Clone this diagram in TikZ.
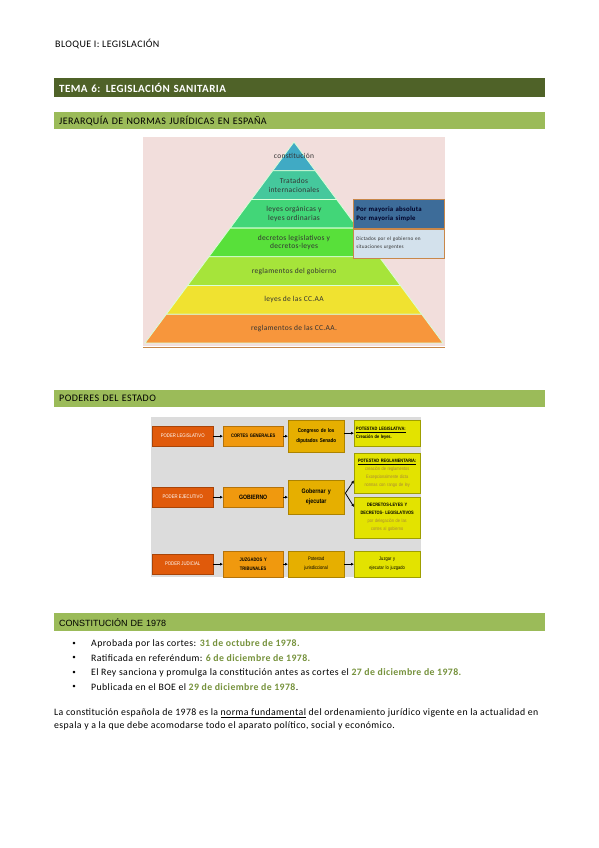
\documentclass[tikz,border=0pt]{standalone}
\usepackage{fontspec}
\setmainfont{Carlito}[LetterSpace=4]
\newfontfamily\narrowfont[FakeStretch=0.82]{Liberation Sans}
\newfontfamily\arialfont{Liberation Sans}
\usetikzlibrary{positioning, calc, arrows.meta}

\definecolor{temagreen}{HTML}{4F6228}
\definecolor{barlight}{HTML}{9BBB59}
\definecolor{dategreen}{HTML}{76923C}
\definecolor{pinkbg}{HTML}{F2DEDC}
\definecolor{pcon}{HTML}{40AAC4}
\definecolor{ptra}{HTML}{45C89C}
\definecolor{pley}{HTML}{42D678}
\definecolor{pdec}{HTML}{58E03A}
\definecolor{preg}{HTML}{A6E43A}
\definecolor{pcca}{HTML}{F0E230}
\definecolor{prca}{HTML}{F7963C}
\definecolor{mayoriablue}{HTML}{3D6C99}
\definecolor{dictadosblue}{HTML}{D3E1EC}
\definecolor{sideedge}{HTML}{C8874A}
\definecolor{diagramgray}{HTML}{DCDCDC}
\definecolor{powerorange}{HTML}{E05A0B}
\definecolor{organorange}{HTML}{F0990E}
\definecolor{taskgold}{HTML}{E6AF00}
\definecolor{dutyyellow}{HTML}{E3E300}
\definecolor{dutytext}{HTML}{A8873A}

\begin{document}
\begin{tikzpicture}[
    x=1pt, y=-1pt,
    darkbar/.style={fill=temagreen, text=white, font=\bfseries\fontsize{11}{12}\selectfont, minimum height=19pt, text width=481pt, inner xsep=5pt, align=left, anchor=north west},
    lightbar/.style={fill=barlight, text=black, font=\fontsize{10}{11}\selectfont, minimum height=17pt, text width=481pt, inner xsep=5pt, align=left, anchor=north west},
    layer/.style={font=\fontsize{7.5}{8.7}\selectfont, text=black!80, align=center, inner sep=0pt},
    sidebox/.style={draw=sideedge, line width=0.6pt, minimum width=91pt, minimum height=29pt, text width=85pt, inner xsep=3pt, align=left, anchor=north west},
    power/.style={fill=powerorange, draw=powerorange!75!black, line width=0.4pt, text=white, font=\narrowfont\fontsize{5.2}{6}\selectfont, minimum width=61pt, minimum height=20pt, anchor=north west, inner sep=1pt},
    organ/.style={fill=organorange, draw=organorange!75!black, line width=0.4pt, font=\narrowfont\bfseries\fontsize{5}{9}\selectfont, minimum width=60pt, text width=58pt, inner xsep=1pt, align=center, anchor=north west},
    task/.style={fill=taskgold, draw=taskgold!75!black, line width=0.4pt, font=\narrowfont\bfseries\fontsize{5.5}{10}\selectfont, minimum width=56pt, text width=54pt, inner xsep=1pt, align=center, anchor=north west},
    duty/.style={fill=dutyyellow, draw=dutyyellow!70!black, line width=0.4pt, font=\narrowfont\fontsize{4.8}{8}\selectfont, minimum width=66pt, text width=62pt, inner xsep=2pt, align=center, anchor=north west},
    arr/.style={-{Latex[length=3pt,width=3pt]}, line width=0.8pt, black},
    body/.style={font=\fontsize{9.8}{11}\selectfont, anchor=west, inner sep=0pt},
    bulletmark/.style={font=\fontsize{7}{8}\selectfont, inner sep=0pt}
]
    \useasboundingbox (0,0) rectangle (599,848);
    \fill[white] (0,0) rectangle (599,848);

    % Cabecera
    \node[anchor=west, inner sep=0pt, font=\fontsize{10}{11}\selectfont] (bloque) at (55,44) {BLOQUE I: LEGISLACIÓN};
    \node[darkbar] (tema) at (54,78) {TEMA 6: LEGISLACIÓN SANITARIA};
    \node[lightbar] (jerarquia) at (54,112) {JERARQUÍA DE NORMAS JURÍDICAS EN ESPAÑA};

    % Piramide
    \fill[pinkbg] (143,137) rectangle (445,346);
    \draw[sideedge, line width=0.8pt] (143,347) -- (445,347);
    \foreach \i/\c/\txt in {0/pcon/{constitución}, 1/ptra/{Tratados\\internacionales}, 2/pley/{leyes orgánicas y\\leyes ordinarias}, 3/pdec/{decretos legislativos y\\decretos-leyes}, 4/preg/{reglamentos del gobierno}, 5/pcca/{leyes de las CC.AA}, 6/prca/{reglamentos de las CC.AA.}}
    {
        \pgfmathsetmacro{\yt}{142+28.71*\i}
        \pgfmathsetmacro{\yb}{\yt+28.71}
        \pgfmathsetmacro{\wt}{0.7413*(\yt-142)}
        \pgfmathsetmacro{\wb}{0.7413*(\yb-142)}
        \filldraw[fill=\c, draw=white!85!green, line width=0.8pt] (294-\wt,\yt) -- (294+\wt,\yt) -- (294+\wb,\yb) -- (294-\wb,\yb) -- cycle;
        \node[layer] (layer\i) at (294,\yt+14.4) {\txt};
    }

    % Mayorias
    \node[sidebox, fill=mayoriablue, text=black!85!blue, font=\bfseries\fontsize{6.8}{9}\selectfont] (mayoria) at (353,199) {Por mayoria absoluta\\Por mayoria simple};
    \node[sidebox, fill=dictadosblue, text=black!80, font=\fontsize{5.2}{8}\selectfont] (dictados) at (353,228.5) {Dictados por el gobierno en\\situaciones urgentes};

    \node[lightbar] (poderes) at (54,390) {PODERES DEL ESTADO};

    % Poderes del estado
    \fill[diagramgray] (151,417) rectangle (421,577);
    \node[power] (legis) at (152,426) {PODER LEGISLATIVO};
    \node[power] (ejec) at (152,487) {PODER EJECUTIVO};
    \node[power] (judic) at (152,554) {PODER JUDICIAL};

    \node[organ, minimum height=20pt] (cortes) at (223,426) {CORTES GENERALES};
    \node[organ, minimum height=20pt, font=\narrowfont\bfseries\fontsize{6.3}{8}\selectfont] (gobierno) at (223,487) {GOBIERNO};
    \node[organ, minimum height=26pt] (juzgados) at (223,551) {JUZGADOS Y\\TRIBUNALES};

    \node[task, minimum height=32pt] (congreso) at (288,420) {Congreso de los\\diputados Senado};
    \node[task, minimum height=34pt, font=\narrowfont\bfseries\fontsize{6.5}{10}\selectfont] (gobernar) at (288,480) {Gobernar y\\ejecutar};
    \node[task, minimum height=26pt, font=\narrowfont\fontsize{5}{9}\selectfont] (jurisd) at (288,551) {Potestad\\jurisdiccional};

    \node[duty, minimum height=26pt, align=left] (potleg) at (354,420) {\textbf{\underline{POTESTAD LEGISLATIVA:}}\\\textbf{Creación de leyes.}};
    \node[duty, minimum height=40pt] (potregl) at (354,453) {\textbf{\underline{POTESTAD REGLAMENTARIA:}}\\\textcolor{dutytext}{creación de reglamentos}\\\textcolor{dutytext}{Excepcionalmente dicta}\\\textcolor{dutytext}{normas con rango de ley}};
    \node[duty, minimum height=41pt] (decretos) at (354,497) {\textbf{DECRETOS-LEYES Y}\\\textbf{DECRETOS- LEGISLATIVOS}\\\textcolor{dutytext}{por delegación de las}\\\textcolor{dutytext}{cortes al gobierno}};
    \node[duty, minimum height=26pt, font=\narrowfont\fontsize{5}{9}\selectfont] (juzgar) at (354,551) {Juzgar y\\ejecutar lo juzgado};

    % Flechas
    \draw[arr] (legis) -- (cortes);
    \draw[arr] (cortes) -- (congreso);
    \draw[arr] (congreso.east |- potleg.west) -- (potleg.west);
    \draw[arr] (ejec) -- (gobierno);
    \draw[arr] (gobierno) -- (gobernar);
    \coordinate (fork) at ($(gobernar.east)+(1,-4)$);
    \draw[arr] (fork) -- ([yshift=13pt]potregl.south west);
    \draw[arr] (fork) -- ([yshift=-10pt]decretos.north west);
    \draw[arr] (judic) -- (juzgados);
    \draw[arr] (juzgados) -- (jurisd);
    \draw[arr] (jurisd) -- (juzgar);

    % Constitucion
    \node[lightbar, font=\arialfont\fontsize{9}{11}\selectfont, minimum height=18pt] (constitucion) at (54,613) {CONSTITUCIÓN DE 1978};
    \node[bulletmark] (bul1) at (74,644) {•};
    \node[bulletmark] (bul2) at (74,658) {•};
    \node[bulletmark] (bul3) at (74,672.5) {•};
    \node[bulletmark] (bul4) at (74,687) {•};
    \node[body] (item1) at (91,644) {Aprobada por las cortes: \textcolor{dategreen}{\textbf{31 de octubre de 1978.}}};
    \node[body] (item2) at (91,658) {Ratificada en referéndum: \textcolor{dategreen}{\textbf{6 de diciembre de 1978.}}};
    \node[body] (item3) at (91,672.5) {El Rey sanciona y promulga la constitución antes as cortes el \textcolor{dategreen}{\textbf{27 de diciembre de 1978.}}};
    \node[body] (item4) at (91,687) {Publicada en el BOE el \textcolor{dategreen}{\textbf{29 de diciembre de 1978}}.};
    \node[body] (para1) at (54,713) {La constitución española de 1978 es la \underline{norma fundamental} del ordenamiento jurídico vigente en la actualidad en};
    \node[body] (para2) at (54,726) {espala y a la que debe acomodarse todo el aparato político, social y económico.};
\end{tikzpicture}
\end{document}
